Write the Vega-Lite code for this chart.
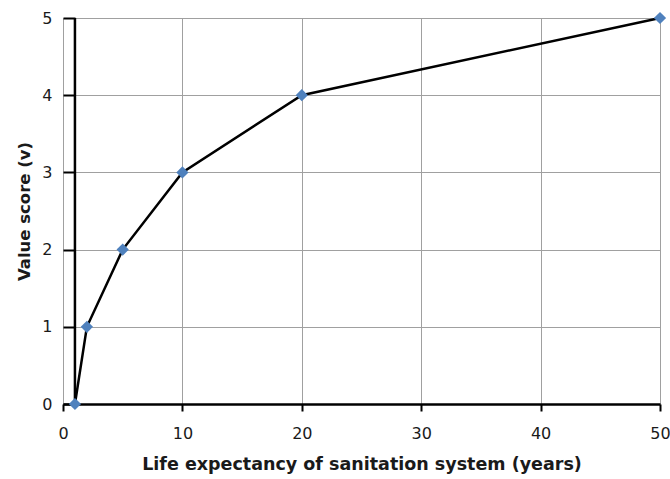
{
  "$schema": "https://vega.github.io/schema/vega-lite/v6.json",
  "width": 597,
  "height": 386,
  "autosize": "none",
  "padding": {"left": 63, "top": 18, "right": 10, "bottom": 75},
  "background": "white",
  "config": {
    "view": {"stroke": null},
    "axis": {"labelFont": "DejaVu Sans", "titleFont": "DejaVu Sans", "labelColor": "#1a1a1a", "titleColor": "#1a1a1a", "labelFlush": false}
  },
  "layer": [
    {
      "data": {"values": [
        {"life": 1, "v": 0},
        {"life": 2, "v": 1},
        {"life": 5, "v": 2},
        {"life": 10, "v": 3},
        {"life": 20, "v": 4},
        {"life": 50, "v": 5}
      ]},
      "mark": {"type": "line", "color": "black", "strokeWidth": 2.5},
      "encoding": {
        "y": {"field": "v", "type": "quantitative", "scale": {"domain": [0, 5]},
          "axis": {"values": [0, 1, 2, 3, 4, 5], "format": "d", "title": "Value score (v)", "domain": false,
            "ticks": true, "tickSize": -12, "tickColor": "black", "tickWidth": 2,
            "grid": true, "gridColor": "#a0a0a0", "gridWidth": 1, "labelFontSize": 16, "labelPadding": 23,
            "titleFontSize": 16.5, "titleFontWeight": "bold", "titlePadding": 9}},
        "x": {"field": "life", "type": "quantitative", "scale": {"domain": [0, 50], "nice": false},
          "axis": {"values": [0, 10, 20, 30, 40, 50], "title": "Life expectancy of sanitation system (years)",
            "domainColor": "black", "domainWidth": 2.5, "tickColor": "black", "tickWidth": 2, "tickSize": 7,
            "grid": true, "gridColor": "#a0a0a0", "gridWidth": 1, "labelFontSize": 16, "labelPadding": 14,
            "titleFontSize": 17.5, "titleFontWeight": "bold", "titlePadding": 14}}
      }
    },
    {
      "data": {"values": [{}]},
      "mark": {"type": "rule", "stroke": "black", "strokeWidth": 2.5, "opacity": 1},
      "encoding": {
        "x": {"datum": 1, "type": "quantitative"},
        "y": {"datum": 0, "type": "quantitative"},
        "y2": {"datum": 5}
      }
    },
    {
      "data": {"values": [
        {"life": 1, "v": 0},
        {"life": 2, "v": 1},
        {"life": 5, "v": 2},
        {"life": 10, "v": 3},
        {"life": 20, "v": 4},
        {"life": 50, "v": 5}
      ]},
      "mark": {"type": "point", "shape": "diamond", "filled": true, "color": "#4f81bd", "opacity": 1, "size": 150},
      "encoding": {
        "x": {"field": "life", "type": "quantitative"},
        "y": {"field": "v", "type": "quantitative"}
      }
    }
  ]
}
